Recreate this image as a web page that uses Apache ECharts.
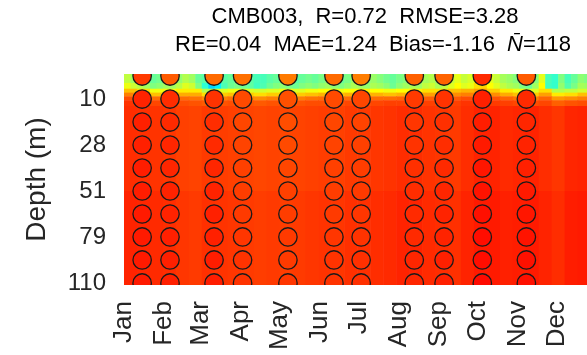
<!DOCTYPE html>
<html><head><meta charset="utf-8">
<script src="https://cdn.jsdelivr.net/npm/echarts@6/dist/echarts.min.js"></script>
<style>html,body{margin:0;padding:0;background:#fff}#c{width:587px;height:355px}</style>
</head><body><div id="c"></div>
<script>
// ---------- tick labels / text ----------
const monthNames = ['Jan','Feb','Mar','Apr','May','Jun','Jul','Aug','Sep','Oct','Nov','Dec'];
const monthStarts = [0,31,59,90,120,151,181,212,243,273,304,334];
const depthLevels = [1,3,5,7,9];
const depthLabels = ['10','28','51','79','110'];
const titleLine1 = 'CMB003,  R=0.72  RMSE=3.28';
const titleLine2a = 'RE=0.04  MAE=1.24  Bias=-1.16  ';
const titleLine2b = 'N\u0304';
const titleLine2c = '=118';

// ---------- model field (day-of-year bins x depth-level bands) ----------
const fineDayEdges = [0,5,10,15,20,25,30,35,40,45,50,55,60,65,70,75,80,85,90,95,100,105,110,115,120,125,130,135,140,145,150,155,160,165,170,175,180,185,190,195,200,205,210,215,220,225,230,235,240,245,250,255,260,265,270,275,280,285,290,295,300,305,310,315,320,325,330,335,340,345,350,355,360,365];
const coarseDayEdges = [0,10,20,30,40,50,60,70,80,90,100,110,120,130,140,150,160,170,180,190,200,210,220,230,240,250,260,270,280,290,300,310,320,330,340,350,360,365];

const top0 = [25.0,24.5,24.3,24.0,23.6,23.8,24.0,23.9,24.3,24.8,24.5,23.6,23.4,22.8,23.0,23.4,23.6,23.6,23.6,23.4,23.1,23.1,23.4,23.6,23.8,23.6,23.4,23.6,23.8,23.6,23.9,24.1,23.8,23.6,23.9,24.4,24.1,23.9,24.4,24.1,23.8,23.6,23.9,24.1,24.4,24.1,24.6,24.8,24.4,24.6,25.1,25.6,25.1,25.4,26.2,26.5,25.6,25.1,24.6,24.4,24.1,23.6,23.4,24.1,25.6,23.1,22.8,24.0,23.1,23.6,24.2,24.0,23.8];
const top1 = [25.7,25.2,24.9,24.5,24.0,24.2,24.5,24.5,24.9,25.5,25.2,24.0,22.7,21.3,21.8,23.2,23.7,23.9,23.7,23.5,23.0,23.2,23.7,24.0,24.2,23.9,23.7,24.0,24.2,24.0,24.3,24.5,24.2,24.0,24.3,24.7,24.5,24.3,24.7,24.5,24.2,23.7,24.2,24.5,24.7,24.5,25.0,25.2,24.7,25.0,25.5,26.0,25.5,25.7,26.5,26.7,26.0,25.5,25.0,24.7,24.5,24.0,23.7,24.5,26.0,23.0,22.8,24.3,23.3,23.9,24.6,24.5,24.3];
const mid0 = [27.0,26.5,25.8,25.8,26.3,26.3,24.8,25.5,25.8,25.5,25.3,25.5,25.8,25.5,25.8,26.0,25.8,26.0,26.2,26.0,25.8,26.0,26.2,26.5,26.5,27.0,27.2,27.5,26.8,26.3,25.8,25.5,26.5,24.8,25.0,25.3,25.3];
const mid1 = [28.0,27.5,27.0,27.0,27.3,27.3,26.5,26.8,27.0,26.8,26.5,26.8,27.0,26.8,27.0,27.2,27.0,27.2,27.3,27.2,27.0,27.2,27.3,27.5,27.5,27.8,28.0,28.2,27.8,27.3,27.0,26.8,27.5,26.3,26.5,27.0,27.0];
const mid2 = [28.8,28.5,28.3,28.3,28.3,28.2,27.8,28.0,28.2,28.0,27.8,28.0,28.2,28.0,28.2,28.3,28.2,28.3,28.4,28.3,28.3,28.4,28.5,28.5,28.5,28.6,28.8,28.9,28.7,28.4,28.2,28.0,28.4,27.6,27.8,28.0,28.0];
const mid3 = [29.2,29.0,28.9,28.8,28.8,28.7,28.6,28.7,28.8,28.7,28.6,28.7,28.8,28.7,28.8,28.8,28.8,28.9,28.9,28.9,29.0,29.0,29.0,29.0,28.9,29.0,29.2,29.3,29.1,29.0,28.9,28.8,28.9,28.5,28.7,28.8,28.9];
const deepA = [29.3,29.25,29.2,29.15,29.0,28.95,29.1,29.05,29.0,28.95,28.9,28.95,28.9,28.95,29.0,29.05,29.0,29.1,29.1,29.15,29.2,29.3,29.3,29.2,29.15,29.1,29.3,29.45,29.45,29.35,29.4,29.45,29.3,29.15,29.4,29.45,29.4];
const deepB = [29.45,29.4,29.35,29.3,29.15,29.1,29.25,29.2,29.15,29.1,29.05,29.1,29.05,29.1,29.15,29.2,29.15,29.25,29.25,29.3,29.35,29.45,29.45,29.35,29.3,29.25,29.45,29.6,29.6,29.5,29.55,29.6,29.45,29.3,29.55,29.6,29.55];

// ---------- observations (circles) ----------
const obsDays = [14,35.5,69.5,91.5,126.5,162,183,224,247,276.5,310.5];
const obsLevels = [0,1,2,3,4,5,6,7,8,9];
const obsJan = [29.1,29.45,29.5,29.5,29.55,29.55,29.6,29.6,29.6,29.6];
const obsFeb = [28.6,29.3,29.35,29.4,29.4,29.45,29.45,29.5,29.5,29.5];
const obsMar = [28.35,29.2,29.3,29.35,29.4,29.45,29.5,29.5,29.55,29.55];
const obsApr = [28.25,28.85,28.9,28.95,29.0,29.05,29.1,29.15,29.2,29.2];
const obsMay = [28.1,28.75,28.8,28.85,28.9,29.0,29.05,29.1,29.1,29.15];
const obsJun = [28.35,28.85,28.9,28.95,29.0,29.05,29.1,29.15,29.2,29.2];
const obsJul = [28.05,28.9,28.95,29.0,29.05,29.1,29.15,29.2,29.25,29.25];
const obsAug = [28.5,29.1,29.15,29.2,29.25,29.3,29.35,29.35,29.4,29.4];
const obsSep = [28.45,29.2,29.25,29.3,29.35,29.4,29.45,29.45,29.5,29.5];
const obsOct = [29.35,29.5,29.55,29.6,29.65,29.7,29.75,29.8,29.8,29.85];
const obsNov = [28.6,29.35,29.4,29.45,29.5,29.6,29.65,29.7,29.75,29.75];
const obsColumns = [obsJan,obsFeb,obsMar,obsApr,obsMay,obsJun,obsJul,obsAug,obsSep,obsOct,obsNov];

// ---------- build data ----------
const bands = [
  {vals: top0, edges: fineDayEdges, y0: -0.09, y1: 0.3},
  {vals: top1, edges: fineDayEdges, y0: 0.3, y1: 0.55},
  {vals: mid0, edges: coarseDayEdges, y0: 0.55, y1: 0.72},
  {vals: mid1, edges: coarseDayEdges, y0: 0.72, y1: 0.88},
  {vals: mid2, edges: coarseDayEdges, y0: 0.88, y1: 1.05},
  {vals: mid3, edges: coarseDayEdges, y0: 1.05, y1: 1.3},
  {vals: deepA, edges: coarseDayEdges, y0: 1.3, y1: 5},
  {vals: deepB, edges: coarseDayEdges, y0: 5, y1: 9.09}
];
const fieldData = [];
bands.forEach(b => {
  b.vals.forEach((v, i) => fieldData.push([b.edges[i], b.edges[i+1], b.y0, b.y1, v]));
});
const obsData = [];
obsColumns.forEach((col, c) => col.forEach((v, r) => obsData.push([obsDays[c], obsLevels[r], v])));

const jet = ['#00008f','#0000ff','#0080ff','#00ffff','#80ff80','#ffff00','#ff8000','#ff0000','#800000'];
const FONT = "'Liberation Sans', Arial, sans-serif";

const chart = echarts.init(document.getElementById('c'), null, {renderer: 'canvas'});
chart.setOption({
  animation: false,
  backgroundColor: '#fff',
  grid: {left: 124, top: 74, right: -10, bottom: 70, containLabel: false, outerBoundsMode: 'none'},
  xAxis: {
    type: 'value', min: 0, max: 365,
    axisLine: {show: false}, axisTick: {show: false}, splitLine: {show: false},
    axisLabel: {
      customValues: monthStarts, rotate: 90, margin: 16,
      fontSize: 26, fontFamily: FONT, color: '#262626',
      formatter: v => monthNames[monthStarts.indexOf(v)] || ''
    }
  },
  yAxis: {
    type: 'value', min: -0.09, max: 9.09, inverse: true,
    name: 'Depth (m)', nameLocation: 'middle', nameGap: 73,
    nameTextStyle: {fontSize: 28, fontFamily: FONT, color: '#262626'},
    axisLine: {show: false}, axisTick: {show: false}, splitLine: {show: false},
    axisLabel: {
      customValues: depthLevels, margin: 18,
      fontSize: 24, fontFamily: FONT, color: '#262626',
      formatter: v => depthLabels[depthLevels.indexOf(v)] || ''
    }
  },
  visualMap: [
    {type: 'continuous', show: false, min: 16, max: 32, dimension: 4, seriesIndex: 0, inRange: {color: jet}},
    {type: 'continuous', show: false, min: 16, max: 32, dimension: 2, seriesIndex: 1, inRange: {color: jet}}
  ],
  graphic: [
    {type: 'text', x: 365, y: 17, style: {text: titleLine1, fontSize: 22, fontFamily: FONT, fill: '#000', align: 'center', verticalAlign: 'middle'}},
    {type: 'text', x: 373, y: 45, style: {
      text: '{a|' + titleLine2a + '}{i|' + titleLine2b + '}{a|' + titleLine2c + '}',
      align: 'center', verticalAlign: 'middle',
      rich: {
        a: {fontSize: 22, fontFamily: FONT, fill: '#000', color: '#000'},
        i: {fontSize: 22, fontFamily: FONT, fontStyle: 'italic', fill: '#000', color: '#000'}
      }
    }}
  ],
  series: [
    {
      type: 'custom', clip: true, silent: true,
      encode: {x: [0, 1], y: [2, 3]},
      data: fieldData,
      renderItem: (params, api) => {
        const p0 = api.coord([api.value(0), api.value(2)]);
        const p1 = api.coord([api.value(1), api.value(3)]);
        return {
          type: 'rect',
          shape: {x: p0[0], y: Math.min(p0[1], p1[1]), width: p1[0] - p0[0] + 0.6, height: Math.abs(p1[1] - p0[1]) + 0.4},
          style: {fill: api.visual('color')}
        };
      }
    },
    {
      type: 'custom', clip: true, silent: true,
      encode: {x: 0, y: 1},
      data: obsData,
      renderItem: (params, api) => {
        const p = api.coord([api.value(0), api.value(1)]);
        return {
          type: 'circle',
          shape: {cx: p[0], cy: p[1], r: 9.2},
          style: {fill: api.visual('color'), stroke: '#1a1a1a', lineWidth: 1.3}
        };
      }
    }
  ]
});
</script></body></html>
